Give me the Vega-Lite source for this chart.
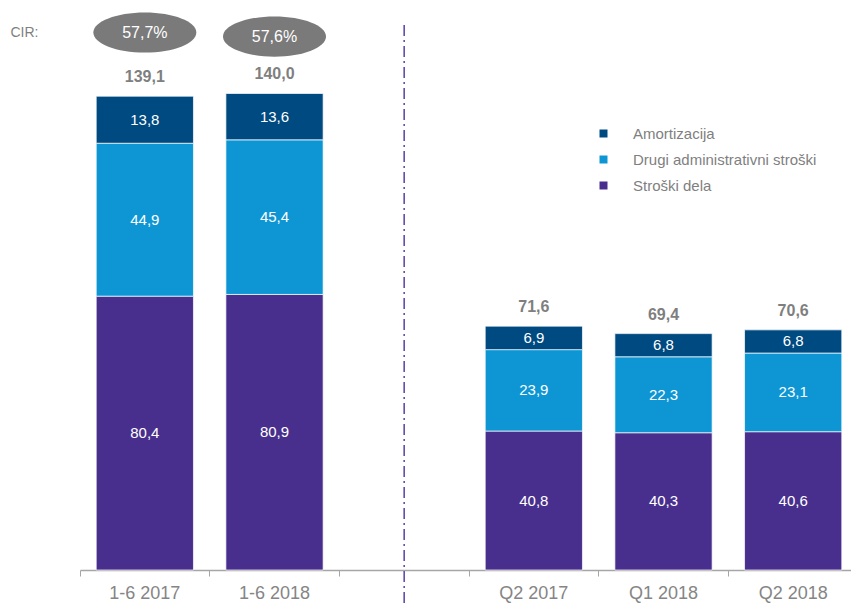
{
  "$schema": "https://vega.github.io/schema/vega-lite/v6.json",
  "width": 771,
  "height": 562,
  "autosize": "none",
  "padding": {"left": 80, "top": 8, "right": 0, "bottom": 33},
  "background": "white",
  "config": {
    "font": "Liberation Sans",
    "view": {"stroke": null},
    "locale": {"number": {"decimal": ",", "thousands": ".", "grouping": [3], "currency": ["", " €"]}},
    "legend": {
      "orient": "none", "legendX": 516, "legendY": 118,
      "symbolType": "square", "symbolSize": 64, "symbolStrokeWidth": 0,
      "labelFontSize": 15, "labelColor": "#7f7f7f", "labelOffset": 22,
      "rowPadding": 10, "title": null, "labelLimit": 400
    }
  },
  "datasets": {
    "segs": [
      {"cat": "1-6 2017", "series": "Stroški dela", "order": 1, "value": 80.4},
      {"cat": "1-6 2017", "series": "Drugi administrativni stroški", "order": 2, "value": 44.9},
      {"cat": "1-6 2017", "series": "Amortizacija", "order": 3, "value": 13.8},
      {"cat": "1-6 2018", "series": "Stroški dela", "order": 1, "value": 80.9},
      {"cat": "1-6 2018", "series": "Drugi administrativni stroški", "order": 2, "value": 45.4},
      {"cat": "1-6 2018", "series": "Amortizacija", "order": 3, "value": 13.6},
      {"cat": "Q2 2017", "series": "Stroški dela", "order": 1, "value": 40.8},
      {"cat": "Q2 2017", "series": "Drugi administrativni stroški", "order": 2, "value": 23.9},
      {"cat": "Q2 2017", "series": "Amortizacija", "order": 3, "value": 6.9},
      {"cat": "Q1 2018", "series": "Stroški dela", "order": 1, "value": 40.3},
      {"cat": "Q1 2018", "series": "Drugi administrativni stroški", "order": 2, "value": 22.3},
      {"cat": "Q1 2018", "series": "Amortizacija", "order": 3, "value": 6.8},
      {"cat": "Q2 2018", "series": "Stroški dela", "order": 1, "value": 40.6},
      {"cat": "Q2 2018", "series": "Drugi administrativni stroški", "order": 2, "value": 23.1},
      {"cat": "Q2 2018", "series": "Amortizacija", "order": 3, "value": 6.8}
    ],
    "totals": [
      {"cat": "1-6 2017", "total": 139.1},
      {"cat": "1-6 2018", "total": 140.0},
      {"cat": "Q2 2017", "total": 71.6},
      {"cat": "Q1 2018", "total": 69.4},
      {"cat": "Q2 2018", "total": 70.6}
    ],
    "cir": [
      {"cat": "1-6 2017", "pos": 157.8, "label": "57,7%"},
      {"cat": "1-6 2018", "pos": 156.6, "label": "57,6%"}
    ],
    "divider": [
      {"cat": " ", "top": 160, "bottom": -10}
    ]
  },
  "layer": [
    {
      "data": {"name": "segs"},
      "transform": [
        {"stack": "value", "groupby": ["cat"], "sort": [{"field": "order"}], "as": ["y0", "y1"]}
      ],
      "mark": {"type": "bar", "width": {"band": 0.75}, "stroke": "white", "strokeWidth": 0.7},
      "encoding": {
        "x": {
          "field": "cat", "type": "nominal",
          "scale": {"domain": ["1-6 2017", "1-6 2018", " ", "Q2 2017", "Q1 2018", "Q2 2018"], "paddingInner": 0, "paddingOuter": 0, "range": [0, 778]},
          "axis": {
            "title": null, "labelAngle": 0, "labelFontSize": 18, "labelColor": "#858585",
            "domainColor": "#a6a6a6", "tickColor": "#a6a6a6", "tickSize": 6, "bandPosition": 0,
            "labelPadding": 8, "grid": false, "domainWidth": 1.5
          }
        },
        "y": {
          "field": "y1", "type": "quantitative",
          "scale": {"domain": [0, 165], "nice": false, "zero": true},
          "axis": {
            "title": "CIR:", "domain": false, "ticks": false, "labels": false, "grid": false,
            "titleAngle": 0, "titleX": -70, "titleY": 24, "titleAlign": "left", "titleBaseline": "middle",
            "titleFontSize": 14, "titleColor": "#7f7f7f", "titleFontWeight": "normal"
          }
        },
        "y2": {"field": "y0"},
        "color": {
          "field": "series", "type": "nominal",
          "scale": {"domain": ["Amortizacija", "Drugi administrativni stroški", "Stroški dela"], "range": ["#004a82", "#0e96d4", "#482f8d"]}
        }
      }
    },
    {
      "data": {"name": "segs"},
      "transform": [
        {"stack": "value", "groupby": ["cat"], "sort": [{"field": "order"}], "as": ["y0", "y1"]},
        {"calculate": "(datum.y0 + datum.y1) / 2", "as": "mid"}
      ],
      "mark": {"type": "text", "color": "white", "fontSize": 15, "baseline": "middle"},
      "encoding": {
        "x": {"field": "cat", "type": "nominal"},
        "y": {"field": "mid", "type": "quantitative"},
        "text": {"field": "value", "type": "quantitative", "format": ".1f"}
      }
    },
    {
      "data": {"name": "totals"},
      "mark": {"type": "text", "color": "#7f7f7f", "fontSize": 16, "fontWeight": "bold", "baseline": "alphabetic", "dy": -14},
      "encoding": {
        "x": {"field": "cat", "type": "nominal"},
        "y": {"field": "total", "type": "quantitative"},
        "text": {"field": "total", "type": "quantitative", "format": ".1f"}
      }
    },
    {
      "data": {"name": "cir"},
      "mark": {"type": "point", "filled": true, "opacity": 1, "color": "#7a7a7a", "size": 10609, "shape": "M-1,0A1,0.39,0,1,0,1,0A1,0.39,0,1,0,-1,0Z"},
      "encoding": {
        "x": {"field": "cat", "type": "nominal"},
        "y": {"field": "pos", "type": "quantitative"}
      }
    },
    {
      "data": {"name": "cir"},
      "mark": {"type": "text", "color": "white", "fontSize": 16, "baseline": "middle"},
      "encoding": {
        "x": {"field": "cat", "type": "nominal"},
        "y": {"field": "pos", "type": "quantitative"},
        "text": {"field": "label"}
      }
    },
    {
      "data": {"name": "divider"},
      "mark": {"type": "rule", "color": "#5b3fa6", "strokeWidth": 1.5, "strokeDash": [11, 4, 2, 4], "clip": false},
      "encoding": {
        "x": {"field": "cat", "type": "nominal"},
        "y": {"field": "top", "type": "quantitative"},
        "y2": {"field": "bottom"}
      }
    }
  ]
}
